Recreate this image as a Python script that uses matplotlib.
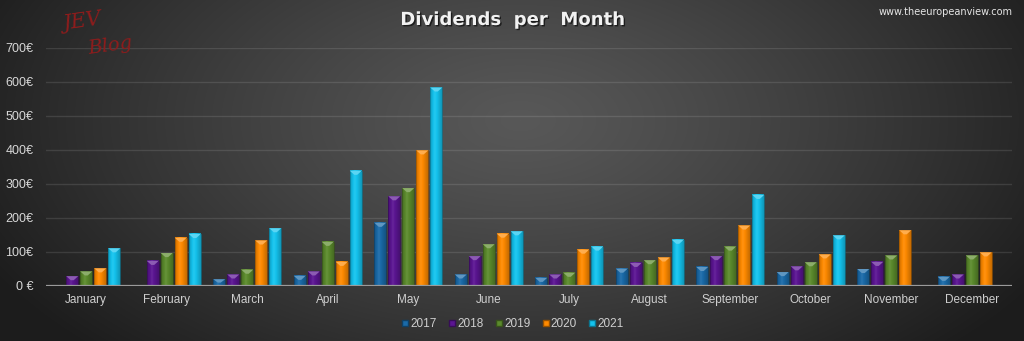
import numpy as np
import matplotlib
matplotlib.use("Agg")
import matplotlib.pyplot as plt
from matplotlib.colors import to_rgb
from matplotlib.patches import Polygon
import matplotlib.patheffects as pe

months = ["January", "February", "March", "April", "May", "June", "July",
          "August", "September", "October", "November", "December"]
years = ["2017", "2018", "2019", "2020", "2021"]
v2017 = [0, 0, 20, 30, 186, 34, 24, 51, 56, 41, 50, 27]
v2018 = [29, 74, 34, 43, 264, 88, 34, 68, 88, 58, 71, 34]
v2019 = [43, 97, 48, 130, 288, 123, 39, 76, 116, 70, 90, 90]
v2020 = [52, 142, 134, 71, 399, 154, 107, 84, 178, 93, 164, 99]
v2021 = [111, 153, 170, 339, 584, 161, 116, 136, 268, 149, 0, 0]
series = [v2017, v2018, v2019, v2020, v2021]
colors = ["#1a6aa8", "#5b1592", "#5b8a2c", "#ff8a00", "#14c3ee"]
yticks = [0, 100, 200, 300, 400, 500, 600, 700]

W, H = 1024, 341
fig = plt.figure(figsize=(W / 100, H / 100), dpi=100)

# background radial gradient
bg = fig.add_axes([0, 0, 1, 1], zorder=-10)
yy, xx = np.mgrid[0:H, 0:W]
r = np.sqrt(((xx - 520) / 600.0) ** 2 + ((yy - 120) / 330.0) ** 2)
r = np.clip(r, 0, 1) ** 1.2
val = (88 - (88 - 28) * r) / 255.0
bg.imshow(np.dstack([val, val, val]), extent=(0, 1, 0, 1), aspect="auto", origin="upper")
bg.set_axis_off()

ax = fig.add_axes([46 / W, 1 - 286 / H, (1012 - 46) / W, (286 - 48) / H])
ax.set_facecolor("none")

step = 0.174
width = 0.149
x = np.arange(len(months))


def shade(c, f):
    c = np.array(to_rgb(c))
    if f >= 0:
        return tuple(c + (1 - c) * f)
    return tuple(c * (1 + f))


for i, (vals, col) in enumerate(zip(series, colors)):
    offs = (i - 2) * step
    for xi, v in zip(x, vals):
        if v <= 0:
            continue
        x0 = xi + offs - width / 2
        x1 = xi + offs + width / 2
        t = np.linspace(0, 1, 24)
        prof = np.where(t < 0.4, -0.2 + 0.28 * (t / 0.4),
                        0.08 - 0.3 * ((t - 0.4) / 0.6))
        grad = np.array([shade(col, p) for p in prof])[None, :, :]
        ax.imshow(grad, extent=(x0, x1, 0, v), aspect="auto", zorder=3,
                  interpolation="bilinear")
        ax.add_patch(plt.Rectangle((x0, 0), x1 - x0, v, fill=False,
                                   edgecolor=shade(col, -0.4), lw=0.5, zorder=4))
        cap = min(12, v * 0.5)
        ax.add_patch(Polygon([(x0, v), (x1, v), (xi + offs + width * 0.12, v - cap),
                              (xi + offs - width * 0.12, v - cap)], closed=True,
                             facecolor=shade(col, 0.3), edgecolor="none", zorder=4))

ax.set_xlim(-0.5, len(months) - 0.5)
ax.set_ylim(0, 700)

for yv in yticks[1:]:
    ax.axhline(yv, color="white", alpha=0.11, lw=1.0, zorder=1)
ax.axhline(0, color="#9a9a9a", lw=1.6, zorder=5)

for s in ax.spines.values():
    s.set_visible(False)
ax.set_xticks(x)
ax.set_xticklabels(months, family="Liberation Sans", fontsize=8.5, color="#cfcfcf")
ax.set_yticks(yticks)
ax.set_yticklabels([f"{v} €" if v == 0 else f"{v}€" for v in yticks],
                   family="Liberation Sans", fontsize=9, color="#d8d8d8")
ax.tick_params(length=0, pad=6)
ax.tick_params(axis="y", pad=9)

fig.text(512 / W, 1 - 20 / H, "Dividends  per  Month", ha="center", va="center",
         fontsize=13, fontweight="bold", family="DejaVu Sans", color="#f2f2f2",
         path_effects=[pe.withSimplePatchShadow(offset=(1, -1), shadow_rgbFace="black", alpha=0.6)])
fig.text(1013 / W, 1 - 12 / H, "www.theeuropeanview.com", ha="right", va="center",
         fontsize=7, family="DejaVu Sans", color="#e6e6e6")
fig.text(82 / W, 1 - 22 / H, "JEV", ha="center", va="center", fontsize=15,
         family="DejaVu Serif", style="italic", color="#8e1c1c", rotation=8)
fig.text(110 / W, 1 - 46 / H, "Blog", ha="center", va="center", fontsize=14,
         family="DejaVu Serif", style="italic", color="#8e1c1c", rotation=8)

handles = [plt.Line2D([], [], marker="s", ls="none", markersize=4.5, markerfacecolor=c,
                      markeredgecolor=shade(c, -0.4)) for c in colors]
fig.legend(handles, years, loc="center", bbox_to_anchor=(0.5, 1 - 324 / H), ncol=5,
           frameon=False, handletextpad=0.05, columnspacing=0.9, handlelength=0.8,
           prop={"family": "Liberation Sans", "size": 8.5}, labelcolor="#cfcfcf")

fig.savefig("out.png", dpi=100)
